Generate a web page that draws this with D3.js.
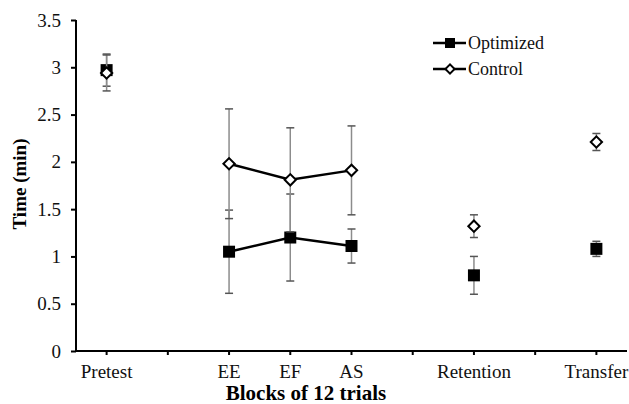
<!DOCTYPE html>
<html>
<head>
<meta charset="utf-8">
<script src="https://cdn.jsdelivr.net/npm/d3@7"></script>
<style>
  body { margin: 0; background: #fff; }
  text { font-family: "Liberation Serif", "Times New Roman", serif; }
</style>
</head>
<body>
<svg id="chart" width="629" height="404"></svg>
<script>
// categories along x (blank slots are spacer ticks)
var blocks = ["Pretest", "gap1", "EE", "EF", "AS", "gap2", "Retention", "gap3", "Transfer"];
var tickLabels = ["Pretest", "", "EE", "EF", "AS", "", "Retention", "", "Transfer"];
var phases = ["Pretest", "EE", "EF", "AS", "Retention", "Transfer"];
// means and error (sd) per phase
var optimized = [2.97, 1.05, 1.20, 1.11, 0.80, 1.08];
var optimizedErr = [0.17, 0.44, 0.46, 0.18, 0.20, 0.08];
var control = [2.94, 1.98, 1.81, 1.91, 1.32, 2.21];
var controlErr = [0.19, 0.58, 0.55, 0.47, 0.12, 0.09];
var yTicks = [0, 0.5, 1, 1.5, 2, 2.5, 3, 3.5];
// which phases are joined by a line
var joined = ["EE", "EF", "AS"];

var svg = d3.select("#chart");
var mLeft = 76, mRight = 627, mTop = 20, mBottom = 351;

var x = d3.scaleBand().domain(blocks).range([mLeft, mRight]);
var y = d3.scaleLinear().domain([0, 3.5]).range([mBottom, mTop]);
function cx(p) { return x(p) + x.bandwidth() / 2; }

// axes
var yAxis = svg.append("g")
  .attr("transform", "translate(" + mLeft + ",0)")
  .call(d3.axisLeft(y).tickValues(yTicks).tickSize(5).tickPadding(10)
    .tickFormat(function(d) { return d; }));
var xAxis = svg.append("g")
  .attr("transform", "translate(0," + mBottom + ")")
  .call(d3.axisBottom(x).tickSize(4).tickPadding(10)
    .tickFormat(function(d, i) { return tickLabels[i]; }));
[yAxis, xAxis].forEach(function(a) {
  a.select(".domain").attr("stroke", "#000").attr("stroke-width", 2);
  a.selectAll(".tick line").attr("stroke", "#000").attr("stroke-width", 2);
  a.selectAll("text").style("font-size", "19px").attr("fill", "#111")
    .style("font-family", "'Liberation Serif', serif");
});
// axis lines without end ticks
yAxis.select(".domain").attr("d", "M0," + mTop + "V" + mBottom);
xAxis.select(".domain").attr("d", "M" + mLeft + ",0H" + mRight);

// axis titles
svg.append("text")
  .attr("transform", "translate(26,184) rotate(-90)")
  .attr("text-anchor", "middle")
  .style("font-size", "19px").style("font-weight", "bold")
  .text("Time (min)");
svg.append("text")
  .attr("x", 306).attr("y", 400)
  .attr("text-anchor", "middle")
  .style("font-size", "21px").style("font-weight", "bold")
  .text("Blocks of 12 trials");

var squareSym = d3.symbol().type(d3.symbolSquare);

function drawSeries(vals, errs, shape) {
  var pts = phases.map(function(p, i) { return {p: p, v: vals[i], e: errs[i]}; });
  var g = svg.append("g");
  // error bars
  var eb = g.selectAll(".eb").data(pts).enter().append("g");
  eb.append("line")
    .attr("x1", function(d) { return cx(d.p); }).attr("x2", function(d) { return cx(d.p); })
    .attr("y1", function(d) { return y(d.v - d.e); }).attr("y2", function(d) { return y(d.v + d.e); })
    .attr("stroke", "#8c8c8c").attr("stroke-width", 1.5);
  [-1, 1].forEach(function(s) {
    eb.append("line")
      .attr("x1", function(d) { return cx(d.p) - 4; }).attr("x2", function(d) { return cx(d.p) + 4; })
      .attr("y1", function(d) { return y(d.v + s * d.e); }).attr("y2", function(d) { return y(d.v + s * d.e); })
      .attr("stroke", "#555").attr("stroke-width", 1.5);
  });
  // connecting line
  var line = d3.line().x(function(d) { return cx(d.p); }).y(function(d) { return y(d.v); });
  g.append("path")
    .datum(pts.filter(function(d) { return joined.indexOf(d.p) >= 0; }))
    .attr("d", line).attr("fill", "none").attr("stroke", "#000").attr("stroke-width", 2.5);
  // markers
  g.selectAll(".m").data(pts).enter().append("path")
    .attr("transform", function(d) {
      return "translate(" + cx(d.p) + "," + y(d.v) + ")" + (shape === "square" ? "" : " rotate(45)");
    })
    .attr("d", shape === "square" ? squareSym.size(144)() : squareSym.size(64)())
    .attr("fill", shape === "square" ? "#000" : "#fff")
    .attr("stroke", "#000").attr("stroke-width", shape === "square" ? 0 : 2);
}
drawSeries(optimized, optimizedErr, "square");
drawSeries(control, controlErr, "diamond");

// legend
var legendItems = [{name: "Optimized", shape: "square"}, {name: "Control", shape: "diamond"}];
var legend = svg.selectAll(".legend").data(legendItems).enter().append("g")
  .attr("transform", function(d, i) { return "translate(433," + (43 + i * 26) + ")"; });
legend.append("line").attr("x1", 0).attr("x2", 33).attr("stroke", "#000").attr("stroke-width", 2.5);
legend.append("path")
  .attr("transform", function(d) { return "translate(17,0)" + (d.shape === "square" ? "" : " rotate(45)"); })
  .attr("d", function(d) {
    return d.shape === "square" ? squareSym.size(100)() : squareSym.size(42)();
  })
  .attr("fill", function(d) { return d.shape === "square" ? "#000" : "#fff"; })
  .attr("stroke", "#000").attr("stroke-width", function(d) { return d.shape === "square" ? 0 : 2; });
legend.append("text").attr("x", 35).attr("dy", "0.35em")
  .style("font-size", "18px").attr("fill", "#111")
  .text(function(d) { return d.name; });
</script>
</body>
</html>
